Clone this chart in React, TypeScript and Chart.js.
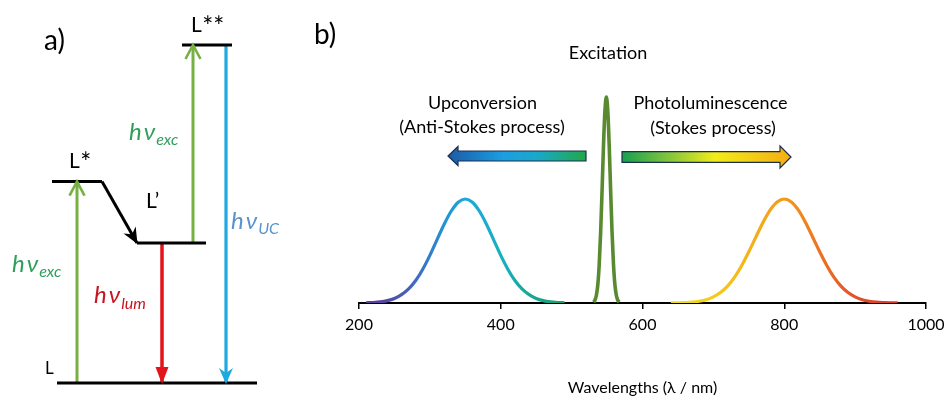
import React, { useEffect, useRef } from "react";
import { Chart, registerables } from "chart.js";
Chart.register(...registerables);

const FONT = "Lato, 'Noto Sans', 'DejaVu Sans', sans-serif";

// ---------------- Panel b: spectra ----------------
const xTickValues = [200, 400, 600, 800, 1000];
const xAxisTitle = "Wavelengths (\u03bb / nm)";

const upconvWavelength = [210, 220, 230, 240, 250, 260, 270, 280, 290, 300, 310, 320, 330, 340, 350, 360, 370, 380, 390, 400, 410, 420, 430, 440, 450, 460, 470, 480, 490];
const upconvIntensity = [0.002, 0.005, 0.011, 0.023, 0.044, 0.08, 0.135, 0.216, 0.325, 0.458, 0.607, 0.755, 0.882, 0.969, 1.0, 0.969, 0.882, 0.755, 0.607, 0.458, 0.325, 0.216, 0.135, 0.08, 0.044, 0.023, 0.011, 0.005, 0.002];

const plWavelength = [640, 650, 660, 670, 680, 690, 700, 710, 720, 730, 740, 750, 760, 770, 780, 790, 800, 810, 820, 830, 840, 850, 860, 870, 880, 890, 900, 910, 920, 930, 940, 950, 960];
const plIntensity = [0.001, 0.002, 0.004, 0.008, 0.017, 0.032, 0.059, 0.101, 0.163, 0.249, 0.361, 0.492, 0.635, 0.775, 0.893, 0.972, 1.0, 0.972, 0.893, 0.775, 0.635, 0.492, 0.361, 0.249, 0.163, 0.101, 0.059, 0.032, 0.017, 0.008, 0.004, 0.002, 0.001];

const excWavelength = [531, 533, 535, 537, 539, 541, 543, 545, 547, 549, 551, 553, 555, 557, 559, 561, 563, 565, 567];
const excIntensity = [0.009, 0.029, 0.077, 0.18, 0.38, 0.69, 1.09, 1.52, 1.85, 1.98, 1.85, 1.52, 1.09, 0.69, 0.38, 0.18, 0.077, 0.029, 0.009];

// colour stops along wavelength (nm) for the gradient-coloured bands
const upconvStopNm = [230, 280, 330, 350, 400, 440, 480];
const upconvStopColor = ["#5b3fa0", "#3f6cc0", "#1f9ad8", "#1ea6dc", "#16b0c0", "#17a89a", "#1aa070"];
const plStopNm = [660, 720, 780, 800, 850, 900, 950];
const plStopColor = ["#f0dc1e", "#f4c21a", "#f3a31b", "#f29a1c", "#ee7220", "#e4502a", "#d93a2b"];

// ---------------- Panel a: energy levels ----------------
const levelNames = ["L", "L*", "L\u2019", "L**"];
const levelEnergy = [0, 59.6, 41.4, 100];
const transitionFrom = ["L", "L\u2019", "L\u2019", "L**"];
const transitionTo = ["L*", "L**", "L", "L"];
const transitionSub = ["exc", "exc", "lum", "UC"];

// layout (horizontal positions in panel a's x units)
const levelSpan: Record<string, [number, number]> = {
  L: [57, 257],
  "L*": [52, 102],
  "L\u2019": [137, 206],
  "L**": [182, 232],
};
const transitionX = [77, 193, 162, 226];
const transitionColor = ["#76b043", "#76b043", "#e3141b", "#1ea9e1"];
const transitionWidth = [3, 3, 3.5, 3.2];
const transitionHead = ["open", "open", "filled", "notched"];

const E = (name: string) => levelEnergy[levelNames.indexOf(name)];

function drawHead(c: CanvasRenderingContext2D, x0: number, y0: number, x1: number, y1: number, style: string, color: string) {
  const ang = Math.atan2(y1 - y0, x1 - x0);
  c.save();
  c.translate(x1, y1);
  c.rotate(ang);
  c.beginPath();
  if (style === "open") {
    c.moveTo(-14, -7.5);
    c.lineTo(0, 0);
    c.lineTo(-14, 7.5);
    c.strokeStyle = color;
    c.lineWidth = 2.6;
    c.lineJoin = "miter";
    c.stroke();
  } else if (style === "filled") {
    c.moveTo(1, 0);
    c.lineTo(-16, -6.5);
    c.lineTo(-16, 6.5);
    c.closePath();
    c.fillStyle = color;
    c.fill();
  } else {
    c.moveTo(1, 0);
    c.lineTo(-15, -7);
    c.lineTo(-10, 0);
    c.lineTo(-15, 7);
    c.closePath();
    c.fillStyle = color;
    c.fill();
  }
  c.restore();
}

function drawHv(c: CanvasRenderingContext2D, x: number, y: number, sub: string, subDy: number, color: string) {
  c.save();
  c.fillStyle = color;
  c.textAlign = "left";
  c.textBaseline = "alphabetic";
  c.font = `italic 24px ${FONT}`;
  c.fillText("h", x, y);
  const wh = c.measureText("h").width;
  c.fillText("\u03bd", x + wh + 2, y);
  const wn = c.measureText("\u03bd").width;
  c.font = `italic 16px ${FONT}`;
  c.fillText(sub, x + wh + 2 + wn + 1, y + subDy);
  c.restore();
}

function drawLevelLabel(c: CanvasRenderingContext2D, x: number, y: number, base: string, stars: string, size: number) {
  c.font = `${size}px ${FONT}`;
  c.fillText(base, x, y);
  const w = c.measureText(base).width;
  if (stars) {
    c.font = `${Math.round(size * 1.25)}px ${FONT}`;
    c.fillText(stars, x + w + 0.5, y + 4);
  }
}

function bandGradient(stopNm: number[], stopColor: string[]) {
  return (ctx: any) => {
    const chart = ctx.chart;
    const xs = chart.scales && chart.scales.x;
    if (!chart.chartArea || !xs) return stopColor[3];
    const x0 = xs.getPixelForValue(stopNm[0]);
    const x1 = xs.getPixelForValue(stopNm[stopNm.length - 1]);
    const g = chart.ctx.createLinearGradient(x0, 0, x1, 0);
    stopNm.forEach((nm, i) => {
      g.addColorStop((nm - stopNm[0]) / (stopNm[stopNm.length - 1] - stopNm[0]), stopColor[i]);
    });
    return g;
  };
}

function drawBlockArrow(
  c: CanvasRenderingContext2D,
  xTail: number, xBase: number, xTip: number, yc: number,
  bodyHalf: number, headHalf: number, stops: [number, string][]
) {
  const g = c.createLinearGradient(xTail, 0, xTip, 0);
  stops.forEach(([o, col]) => g.addColorStop(o, col));
  c.save();
  c.beginPath();
  c.moveTo(xTail, yc - bodyHalf);
  c.lineTo(xBase, yc - bodyHalf);
  c.lineTo(xBase, yc - headHalf);
  c.lineTo(xTip, yc);
  c.lineTo(xBase, yc + headHalf);
  c.lineTo(xBase, yc + bodyHalf);
  c.lineTo(xTail, yc + bodyHalf);
  c.closePath();
  c.fillStyle = g;
  c.fill();
  c.strokeStyle = "#1d2f4f";
  c.lineWidth = 1.2;
  c.stroke();
  c.restore();
}

export default function App() {
  const refA = useRef<HTMLCanvasElement>(null);
  const refB = useRef<HTMLCanvasElement>(null);

  useEffect(() => {
    // ---------- Panel a ----------
    const levelDatasets = levelNames.map((n) => ({
      data: [
        { x: levelSpan[n][0], y: E(n) },
        { x: levelSpan[n][1], y: E(n) },
      ],
      borderColor: "#000",
      borderWidth: 3,
      head: null as any,
    }));
    const relax = {
      data: [
        { x: levelSpan["L*"][1], y: E("L*") },
        { x: levelSpan["L\u2019"][0], y: E("L\u2019") },
      ],
      borderColor: "#000",
      borderWidth: 3,
      head: "notched",
    };
    const transDatasets = transitionFrom.map((f, i) => ({
      data: [
        { x: transitionX[i], y: E(f) },
        { x: transitionX[i], y: E(transitionTo[i]) },
      ],
      borderColor: transitionColor[i],
      borderWidth: transitionWidth[i],
      head: transitionHead[i],
    }));

    const panelAPlugin = {
      id: "panelA",
      afterDatasetsDraw(chart: any) {
        const c: CanvasRenderingContext2D = chart.ctx;
        chart.data.datasets.forEach((ds: any, i: number) => {
          if (!ds.head) return;
          const pts = chart.getDatasetMeta(i).data;
          drawHead(c, pts[0].x, pts[0].y, pts[1].x, pts[1].y, ds.head, ds.borderColor);
        });
        c.save();
        c.fillStyle = "#000";
        c.textBaseline = "alphabetic";
        c.textAlign = "left";
        c.font = `28px ${FONT}`;
        c.fillText("a)", 44, 50);
        drawLevelLabel(c, 191, 32, "L", "**", 21);
        drawLevelLabel(c, 69, 168, "L", "*", 21);
        drawLevelLabel(c, 146, 208, "L\u2019", "", 21);
        drawLevelLabel(c, 45, 374, "L", "", 17);
        c.restore();
        drawHv(c, 12, 272, transitionSub[0], 5, "#2fa05a");
        drawHv(c, 129, 140, transitionSub[1], 5, "#2fa05a");
        drawHv(c, 94, 303, transitionSub[2], 6, "#c8141e");
        drawHv(c, 231, 229, transitionSub[3], 5, "#5a93cc");
      },
    };

    const chartA = new Chart(refA.current!, {
      type: "scatter",
      data: {
        datasets: [...levelDatasets, relax, ...transDatasets].map((d) => ({
          ...d,
          showLine: true,
          pointRadius: 0,
          tension: 0,
          borderCapStyle: "butt",
        })) as any,
      },
      options: {
        animation: false,
        responsive: false,
        maintainAspectRatio: false,
        events: [],
        layout: { padding: 0 },
        plugins: { legend: { display: false }, tooltip: { enabled: false } },
        scales: {
          x: { type: "linear", min: 0, max: 300, display: false },
          y: { type: "linear", min: -9.17, max: 113.31, display: false },
        },
      },
      plugins: [panelAPlugin],
    });

    // ---------- Panel b ----------
    const panelBPlugin = {
      id: "panelB",
      afterDraw(chart: any) {
        const c: CanvasRenderingContext2D = chart.ctx;
        c.save();
        c.fillStyle = "#000";
        c.textBaseline = "alphabetic";
        c.textAlign = "left";
        c.font = `28px ${FONT}`;
        c.fillText("b)", 14, 44);
        c.textAlign = "center";
        c.font = `18px ${FONT}`;
        c.fillText("Excitation", 308, 59);
        c.fillText("Upconversion", 182.5, 109);
        c.fillText("(Anti-Stokes process)", 182, 133);
        c.fillText("Photoluminescence", 410.5, 109);
        c.fillText("(Stokes process)", 413, 134);
        c.restore();
        drawBlockArrow(c, 286, 158, 148, 156, 5, 9.5, [
          [0, "#22a848"], [0.35, "#19a9c8"], [0.6, "#1c9ee0"], [1, "#1d5aa5"],
        ]);
        drawBlockArrow(c, 322, 480, 491, 157, 5.3, 11, [
          [0, "#16a050"], [0.3, "#8cc83a"], [0.55, "#f2ec1a"], [1, "#f5ad12"],
        ]);
      },
    };

    const chartB = new Chart(refB.current!, {
      type: "scatter",
      data: {
        datasets: [
          {
            data: upconvWavelength.map((w, i) => ({ x: w, y: upconvIntensity[i] })),
            borderColor: bandGradient(upconvStopNm, upconvStopColor),
            borderWidth: 3.2,
          },
          {
            data: plWavelength.map((w, i) => ({ x: w, y: plIntensity[i] })),
            borderColor: bandGradient(plStopNm, plStopColor),
            borderWidth: 3.2,
          },
          {
            data: excWavelength.map((w, i) => ({ x: w, y: excIntensity[i] })),
            borderColor: "#5a8a30",
            borderWidth: 3.6,
          },
          {
            data: excWavelength.map((w, i) => ({ x: w, y: excIntensity[i] })),
            borderColor: "#a8d27c",
            borderWidth: 1.2,
          },
        ].map((d) => ({
          ...d,
          showLine: true,
          pointRadius: 0,
          cubicInterpolationMode: "monotone",
        })) as any,
      },
      options: {
        animation: false,
        responsive: false,
        maintainAspectRatio: false,
        events: [],
        layout: { padding: { left: 59, right: 18, top: 0, bottom: 0 } },
        plugins: { legend: { display: false }, tooltip: { enabled: false } },
        scales: {
          x: {
            type: "linear",
            min: 200,
            max: 1000,
            afterBuildTicks: (s: any) => {
              s.ticks = xTickValues.map((v) => ({ value: v }));
            },
            afterFit: (s: any) => {
              s.height = 111;
              s.paddingLeft = 0;
              s.paddingRight = 0;
            },
            grid: { drawOnChartArea: false, drawTicks: true, tickLength: 6, color: "#000", lineWidth: 1.5 },
            border: { display: true, color: "#000", width: 2 },
            ticks: {
              padding: 6,
              color: "#000",
              font: { family: FONT, size: 16 },
              maxRotation: 0,
              autoSkip: false,
              callback: (v: any) => String(v),
            },
            title: {
              display: true,
              text: xAxisTitle,
              color: "#000",
              font: { family: FONT, size: 16 },
              padding: { top: 0, bottom: 17 },
            },
          },
          y: { type: "linear", min: 0, max: 2.913, display: false },
        },
      },
      plugins: [panelBPlugin],
    });

    return () => {
      chartA.destroy();
      chartB.destroy();
    };
  }, []);

  return (
    <div style={{ position: "fixed", left: 0, top: 0, width: 944, height: 414, background: "#fff" }}>
      <canvas ref={refA} width={300} height={414} style={{ position: "absolute", left: 0, top: 0, width: 300, height: 414 }} />
      <canvas ref={refB} width={644} height={414} style={{ position: "absolute", left: 300, top: 0, width: 644, height: 414 }} />
    </div>
  );
}
